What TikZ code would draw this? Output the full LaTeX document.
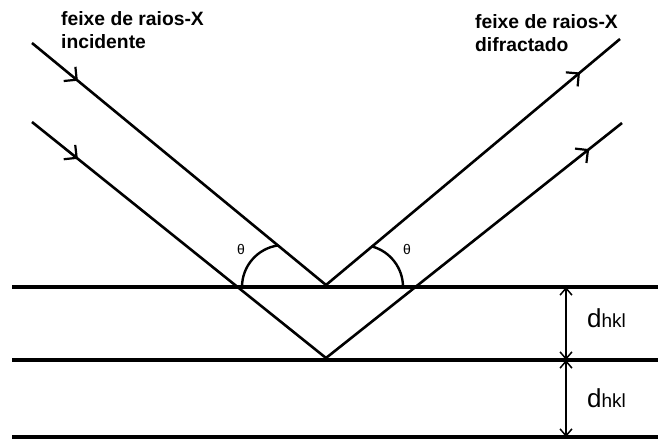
\documentclass[tikz,border=0pt]{standalone}
\usepackage{fontspec}
\setmainfont{Liberation Sans}
\usetikzlibrary{arrows.meta,decorations.markings}
\begin{document}
\begin{tikzpicture}[x=1pt,y=1pt,
  plane/.style={line width=4.4pt},
  beam/.style={line width=2.6pt},
  midarrow/.style={postaction={decorate},decoration={markings,
     mark=at position #1 with {\arrow{Straight Barb[angle=90:13pt,line width=2.2pt]}}}},
  anglearc/.style={line width=2.4pt},
  dimline/.style={line width=1.5pt,{Straight Barb[length=7pt,width=12pt,line width=1.5pt]}-{Straight Barb[length=7pt,width=12pt,line width=1.5pt]}},
  lbl/.style={anchor=base west,inner sep=0pt,font=\bfseries\fontsize{19.3}{23}\selectfont},
  theta/.style={inner sep=0pt,font=\fontsize{14}{14}\selectfont},
  dhkl/.style={anchor=base west,inner sep=0pt}
]
\useasboundingbox (0,0) rectangle (658,439);
% crystal planes
\coordinate (p1l) at (12,152); \coordinate (p1r) at (658,152);
\coordinate (p2l) at (12,79);  \coordinate (p2r) at (658,79);
\coordinate (p3l) at (12,2.2); \coordinate (p3r) at (658,2.2);
\draw[plane] (p1l) -- (p1r);
\draw[plane] (p2l) -- (p2r);
\draw[plane] (p3l) -- (p3r);
% beams
\coordinate (i1) at (32,396); \coordinate (A1) at (326,154); \coordinate (r1) at (620,400);
\coordinate (i2) at (32,317); \coordinate (A2) at (326,81);  \coordinate (r2) at (622,316);
\draw[beam,midarrow=0.156] (i1) -- (A1);
\draw[beam,midarrow=0.864] (A1) -- (r1);
\draw[beam,midarrow=0.156] (i2) -- (A2);
\draw[beam,midarrow=0.889] (A2) -- (r2);
% angle arcs
\coordinate (c1) at (284,152); \coordinate (c2) at (361,152);
\draw[anglearc] ([xshift=-42pt]c1) arc[start angle=180,end angle=98,radius=42];
\draw[anglearc] ([xshift=42pt]c2) arc[start angle=0,end angle=75,radius=42];
\node[theta] (t1) at (241,189) {θ};
\node[theta] (t2) at (407,189) {θ};
% labels
\node[lbl] (l1) at (61,413) {feixe de raios-X};
\node[lbl] (l2) at (61,390) {incidente};
\node[lbl] (l3) at (475,410) {feixe de raios-X};
\node[lbl] (l4) at (475,387) {difractado};
% spacing
\coordinate (d0) at (566,152); \coordinate (d1) at (566,79); \coordinate (d2) at (566,2);
\draw[dimline] (d0) -- (d1);
\draw[dimline] (d1) -- (d2);
\node[dhkl] (h1) at (587,111) {\fontsize{26}{26}\selectfont d\fontsize{19}{19}\selectfont hkl};
\node[dhkl] (h2) at (587,32) {\fontsize{26}{26}\selectfont d\fontsize{19}{19}\selectfont hkl};
\end{tikzpicture}
\end{document}
